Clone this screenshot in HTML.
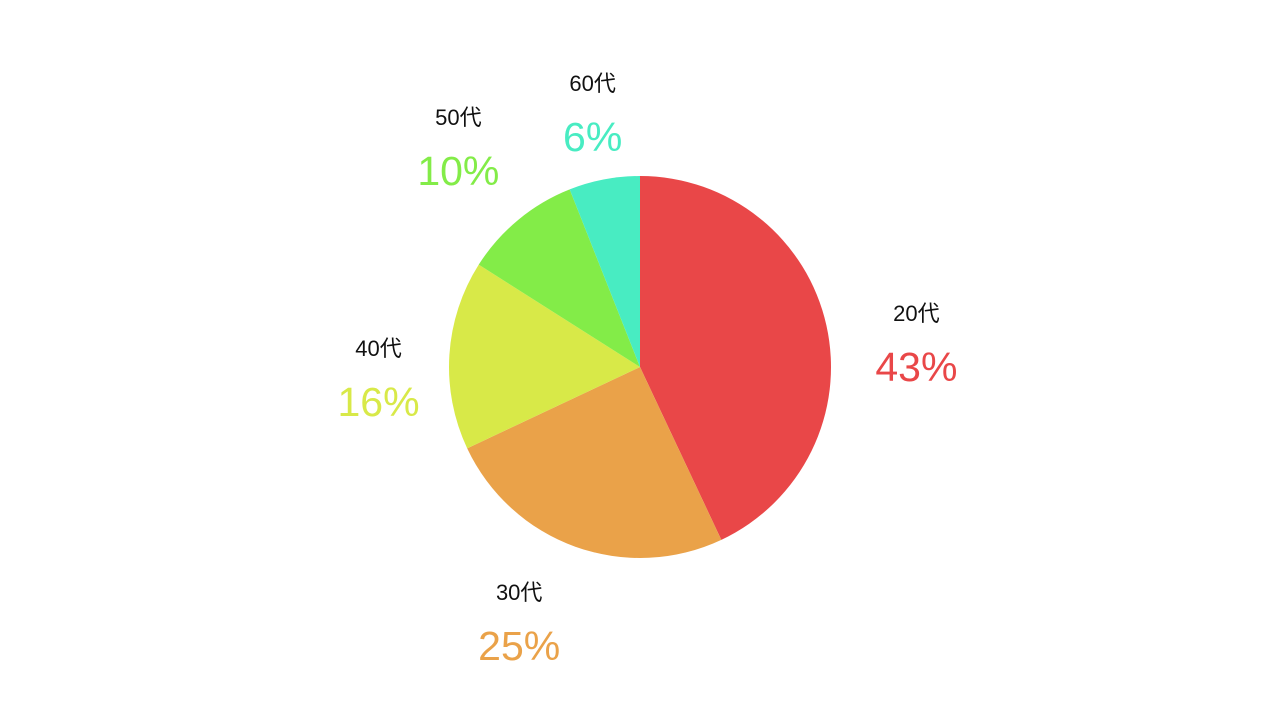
<!DOCTYPE html>
<html><head><meta charset="utf-8"><style>
html,body{margin:0;background:#fff;}
svg{display:block;}
text{font-family:"Liberation Sans","Noto Sans CJK JP",sans-serif;}
</style></head><body>
<svg id="chart" width="1280" height="720"></svg>
<script>
const categories=["20代","30代","40代","50代","60代"];
const values=[43,25,16,10,6];
const colors=["#E94748","#EAA249","#D8E948","#83EC48","#48ECC2"];
const svg=document.getElementById('chart');
const NS="http://www.w3.org/2000/svg";
const cx=640,cy=367,r=191,lr=274;
// label layout nudges (styling, not data)
const nudgeX=[9,-28,12,-7,4];
const nudgeY=[26,-13,18,-19,5];
const total=values.reduce((a,b)=>a+b,0);
function pt(frac,rad){const a=frac*2*Math.PI;return [cx+rad*Math.sin(a),cy-rad*Math.cos(a)];}
let acc=0;
values.forEach((v,i)=>{
  const s=acc/total,e=(acc+v)/total;acc+=v;
  const [x1,y1]=pt(s,r),[x2,y2]=pt(e,r);
  const p=document.createElementNS(NS,'path');
  p.setAttribute('d',`M${cx},${cy}L${x1},${y1}A${r},${r} 0 ${e-s>0.5?1:0} 1 ${x2},${y2}Z`);
  p.setAttribute('fill',colors[i]);
  
  
  svg.appendChild(p);
  let [lx,ly]=pt((s+e)/2,lr);
  lx+=(nudgeX[i]||0);ly+=(nudgeY[i]||0);
  const t1=document.createElementNS(NS,'text');
  t1.setAttribute('x',lx);t1.setAttribute('y',ly-12);
  t1.setAttribute('text-anchor','middle');t1.setAttribute('font-size','22');t1.setAttribute('fill','#111');
  t1.textContent=categories[i];
  
  
  svg.appendChild(t1);
  const t2=document.createElementNS(NS,'text');
  t2.setAttribute('x',lx);t2.setAttribute('y',ly+48);
  t2.setAttribute('text-anchor','middle');t2.setAttribute('font-size','41');t2.setAttribute('fill',colors[i]);
  t2.textContent=values[i]+'%';
  
  
  svg.appendChild(t2);
});
</script>
</body></html>
